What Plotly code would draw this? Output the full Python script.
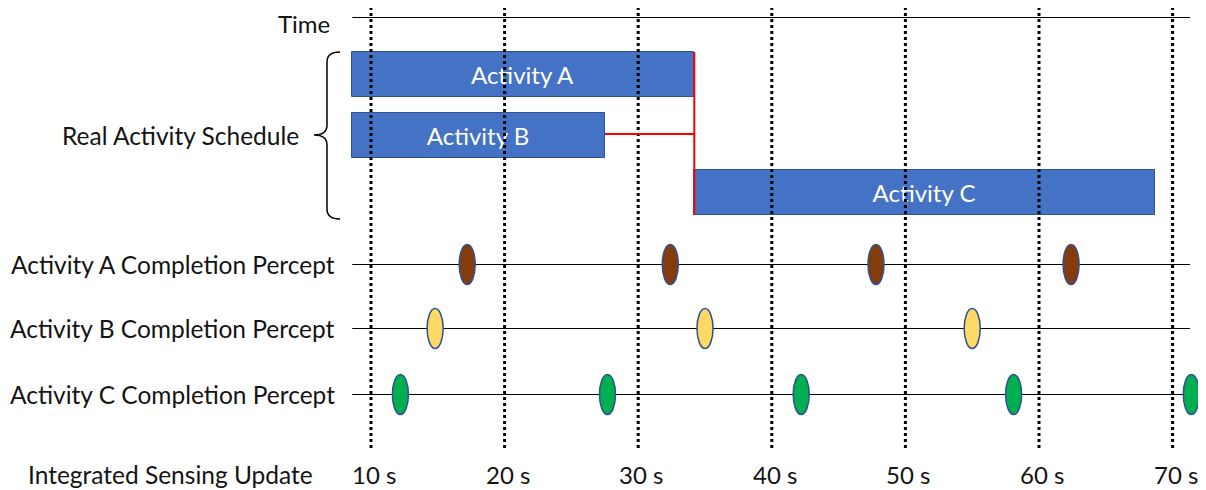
import plotly.graph_objects as go

# --- data (seconds) ---
tick_seconds = [10, 20, 30, 40, 50, 60, 70]
tick_labels = ['10 s', '20 s', '30 s', '40 s', '50 s', '60 s', '70 s']

activities = ['Activity A', 'Activity B', 'Activity C']
act_start = [8.6, 8.6, 34.2]
act_end = [34.2, 27.5, 68.7]

percept_rows = ['Activity A Completion Percept', 'Activity B Completion Percept',
                'Activity C Completion Percept']
percept_A = [17.2, 32.4, 47.8, 62.4]
percept_B = [14.8, 35.0, 55.0]
percept_C = [12.2, 27.7, 42.2, 58.1, 71.4]

timeline_start = 8.6
timeline_end = 71.3

# --- layout constants (page pixels; the page body adds an 8px margin) ---
PAGE_W, PAGE_H = 1206, 490
OFF = 8
W, H = PAGE_W - OFF, PAGE_H - OFF
FONT = 'Lato'
TXT = 'rgb(20,20,20)'
time_y = 17.5
bar_y = [74.5, 135, 192.5]
bar_h = 45
row_y = [264.5, 328.5, 394.5]
ell_colors = ['#843C0C', '#FFD966', '#00B050']
ell_w = 1.2   # seconds
ell_h = 40    # pixels
PX_PER_S = 13.36

fig = go.Figure()

# dotted vertical guide lines at each sensing update
for t in tick_seconds:
    fig.add_trace(go.Scatter(x=[t, t], y=[7, 448], mode='lines',
                             line=dict(color='black', width=3, dash='dot'),
                             hoverinfo='skip'))

# time line and percept lines
for y in [time_y] + row_y:
    fig.add_trace(go.Scatter(x=[timeline_start, timeline_end], y=[y, y], mode='lines',
                             line=dict(color='black', width=1), hoverinfo='skip'))

# red dependency lines
fig.add_trace(go.Scatter(x=[act_end[0], act_end[0]], y=[bar_y[0] - bar_h / 2, bar_y[2] + bar_h / 2],
                         mode='lines', line=dict(color='red', width=2), hoverinfo='skip'))
fig.add_trace(go.Scatter(x=[act_end[1], act_end[0]], y=[134, 134],
                         mode='lines', line=dict(color='red', width=2), hoverinfo='skip'))

# activity bars
fig.add_trace(go.Bar(
    y=bar_y, x=[e - s for s, e in zip(act_start, act_end)], base=act_start,
    orientation='h', width=bar_h,
    marker=dict(color='#4472C4', line=dict(color='#2F528F', width=1)),
    text=activities, textposition='inside', insidetextanchor='middle',
    textfont=dict(family=FONT, size=24, color='white'),
    hoverinfo='skip'))

shapes = []
# completion percept ellipses
for times, y, col in zip([percept_A, percept_B, percept_C], row_y, ell_colors):
    for t in times:
        shapes.append(dict(type='circle', xref='x', yref='y',
                           x0=t - ell_w / 2, x1=t + ell_w / 2,
                           y0=y - ell_h / 2, y1=y + ell_h / 2,
                           fillcolor=col, line=dict(color='#2F528F', width=1.5), layer='above'))

# page pixel -> paper x
def px(x):
    return (x - OFF) / W

# curly brace for the schedule group
brace = ('M {a},52 Q {b},52 {b},62 L {b},125 Q {b},135 {c},135 '
         'Q {b},135 {b},145 L {b},209 Q {b},219 {a},219').format(a=px(340), b=px(327), c=px(314))
shapes.append(dict(type='path', xref='paper', yref='y', path=brace,
                   line=dict(color='black', width=1.5)))

annotations = []
left_labels = [('Real Activity Schedule', 301, bar_y[1])]
left_labels += [(lab, 337, y) for lab, y in zip(percept_rows, row_y)]
for text, xr, y in left_labels:
    annotations.append(dict(x=px(xr), y=y, xref='paper', yref='y', text=text,
                            xanchor='right', yanchor='middle', showarrow=False,
                            font=dict(family=FONT, size=24.5, color=TXT)))
# kept a little lower so it stays inside the top edge
annotations.append(dict(x=px(332), y=23, xref='paper', yref='y', text='Time',
                        xanchor='right', yanchor='middle', showarrow=False,
                        font=dict(family=FONT, size=24, color=TXT)))

annotations.append(dict(x=px(315), y=474, xref='paper', yref='y', text='Integrated Sensing Update',
                        xanchor='right', yanchor='middle', showarrow=False,
                        font=dict(family=FONT, size=24.5, color=TXT)))
for t, lab in zip(tick_seconds, tick_labels):
    annotations.append(dict(x=t, y=474, xref='x', yref='y', text=lab, xshift=3,
                            xanchor='center', yanchor='middle', showarrow=False,
                            font=dict(family=FONT, size=24, color=TXT)))

x_left = 10 - (371 - OFF) / PX_PER_S
x_right = 10 + (PAGE_W - 371) / PX_PER_S

fig.update_layout(
    width=W, height=H,
    margin=dict(l=0, r=0, t=0, b=0),
    plot_bgcolor='white', paper_bgcolor='white',
    showlegend=False,
    bargap=0,
    xaxis=dict(range=[x_left, x_right], visible=False, fixedrange=True),
    yaxis=dict(range=[PAGE_H, OFF], visible=False, fixedrange=True),
    shapes=shapes,
    annotations=annotations,
)

fig.write_html('out.html')
